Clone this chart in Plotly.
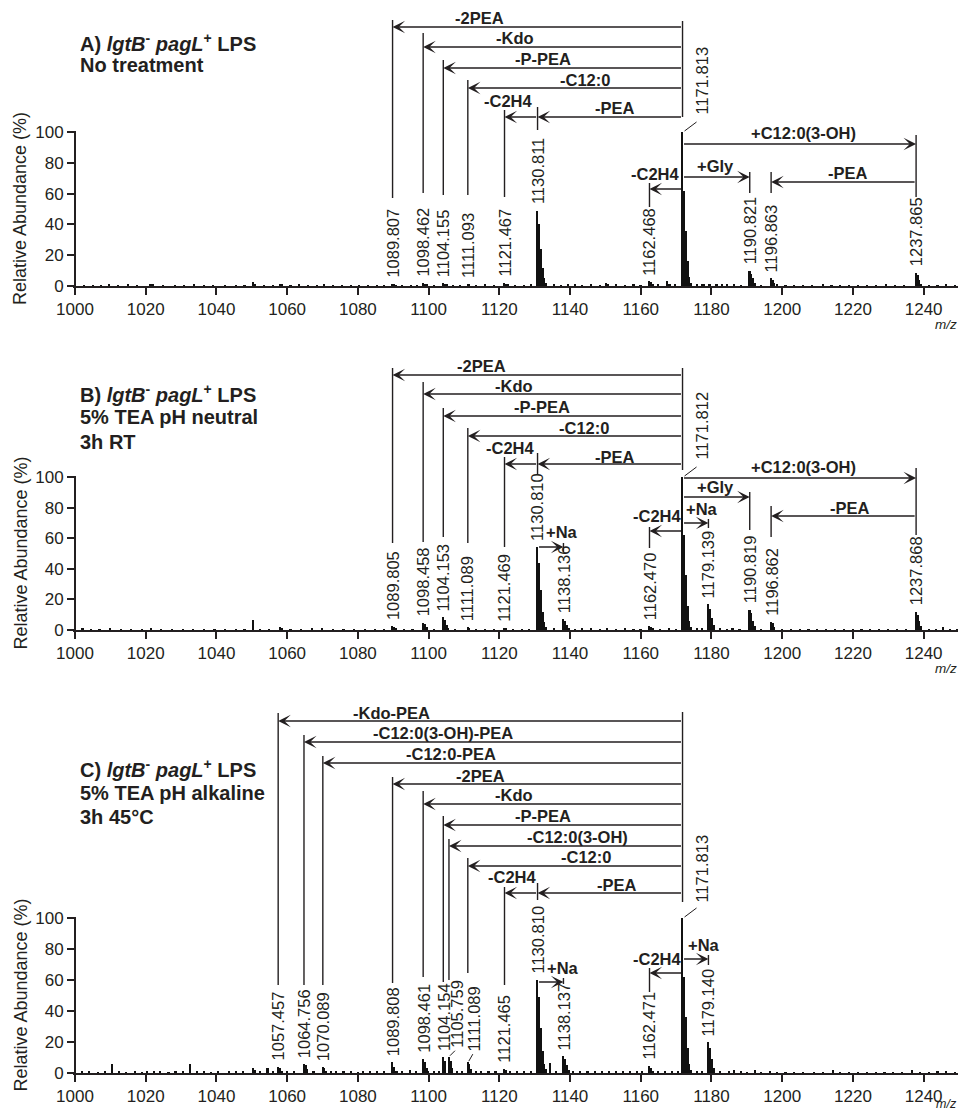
import plotly.graph_objects as go

# ---------------------------------------------------------------- data
# (m/z, relative abundance %)
A_peaks = [
    (1002.5, 0.6), (1005.2, 0.5), (1007.4, 0.6), (1009.6, 1.0), (1012.3, 0.5), (1015.0, 0.7),
    (1017.6, 0.5), (1021.4, 1.4), (1022.0, 0.8), (1025.0, 0.5), (1028.3, 0.6), (1031.0, 0.5),
    (1033.8, 0.7), (1036.5, 0.6), (1039.2, 0.5), (1042.6, 0.6), (1045.5, 0.5), (1048.0, 0.6),
    (1050.5, 2.4), (1051.0, 1.2), (1053.5, 0.6), (1056.0, 0.5), (1058.0, 1.6), (1058.5, 0.8),
    (1061.0, 0.6), (1063.5, 0.7), (1066.0, 0.5), (1068.5, 0.6), (1070.5, 1.1), (1073.0, 0.5),
    (1075.5, 0.6), (1078.0, 0.5), (1080.5, 0.6), (1083.0, 0.5), (1085.5, 0.6), (1087.5, 0.5),
    (1089.807, 1.6), (1090.31, 1.2), (1090.81, 0.6), (1092.5, 0.5), (1095.0, 0.6), (1096.8, 0.5),
    (1098.462, 2.0), (1098.96, 1.5), (1099.46, 0.8), (1101.5, 0.6),
    (1104.155, 2.0), (1104.65, 1.6), (1105.15, 0.8), (1107.0, 0.6), (1109.0, 0.5),
    (1111.093, 1.5), (1111.59, 1.0), (1113.5, 0.6), (1116.0, 0.7), (1118.5, 0.5),
    (1121.467, 2.0), (1121.97, 1.5), (1122.47, 0.8), (1124.5, 0.5), (1127.0, 0.6), (1129.0, 0.7),
    (1130.811, 49.0), (1131.31, 40.0), (1131.81, 24.0), (1132.31, 12.0), (1132.81, 5.0), (1133.31, 2.0),
    (1135.5, 0.8), (1137.5, 0.6), (1139.5, 0.7), (1141.5, 1.0), (1143.5, 0.6), (1146.0, 0.7),
    (1148.5, 0.6), (1150.3, 2.0), (1150.8, 1.0), (1153.0, 0.8), (1155.5, 0.6), (1158.0, 0.7), (1160.0, 0.6),
    (1162.468, 3.0), (1162.97, 2.5), (1163.47, 1.2), (1165.0, 0.8), (1167.4, 3.5), (1168.2, 1.0), (1169.8, 0.8),
    (1171.813, 100.0), (1172.31, 62.0), (1172.81, 36.0), (1173.31, 16.0), (1173.81, 6.0), (1174.31, 2.0),
    (1176.0, 0.8), (1177.3, 1.5), (1177.8, 1.0), (1179.5, 0.7), (1181.5, 0.8), (1183.0, 1.0),
    (1184.5, 0.9), (1186.5, 0.7), (1188.5, 0.6),
    (1190.821, 10.0), (1191.32, 8.0), (1191.82, 5.0), (1192.32, 2.0), (1194.0, 0.6),
    (1196.863, 5.0), (1197.36, 4.0), (1197.86, 2.0), (1198.5, 0.8),
    (1201.0, 0.6), (1203.5, 0.5), (1206.0, 0.6), (1208.5, 0.5), (1211.5, 0.7), (1214.0, 0.5),
    (1216.5, 0.6), (1219.0, 0.5), (1221.5, 0.6), (1224.0, 0.5), (1226.5, 0.6), (1229.3, 0.9),
    (1232.0, 0.5), (1234.5, 0.6),
    (1237.865, 8.7), (1238.37, 7.0), (1238.87, 4.0), (1239.37, 1.5),
    (1241.5, 0.6), (1244.0, 0.5), (1246.5, 0.7), (1249.0, 0.5),
]

B_peaks = [
    (1002.2, 1.6), (1004.5, 0.6), (1007.0, 0.5), (1010.0, 0.9), (1013.0, 0.5), (1016.0, 0.6),
    (1019.0, 0.5), (1021.5, 0.8), (1024.5, 0.6), (1027.5, 0.5), (1030.5, 0.6), (1033.5, 0.5),
    (1036.5, 0.6), (1039.5, 0.5), (1042.5, 0.6), (1045.5, 0.5), (1048.0, 0.6), (1050.5, 6.5),
    (1052.5, 0.6), (1055.0, 0.5), (1058.0, 2.0), (1058.5, 1.0), (1061.0, 0.6), (1064.0, 0.5),
    (1067.0, 0.7), (1070.0, 0.9), (1073.0, 0.5), (1076.0, 0.6), (1079.0, 0.5), (1082.0, 0.6),
    (1085.0, 0.5), (1087.5, 0.6),
    (1089.805, 2.6), (1090.31, 2.0), (1090.81, 0.8), (1093.0, 0.6), (1095.5, 0.5),
    (1098.458, 4.8), (1098.96, 4.0), (1099.46, 2.0), (1101.5, 0.6),
    (1104.153, 8.3), (1104.65, 6.5), (1105.15, 3.5), (1105.65, 1.5), (1107.5, 0.6),
    (1111.089, 2.0), (1111.59, 1.5), (1113.5, 0.6), (1116.0, 0.5), (1118.5, 0.6),
    (1121.469, 1.2), (1121.97, 0.9), (1124.0, 0.6), (1126.5, 0.5), (1128.5, 0.6),
    (1130.810, 54.0), (1131.31, 44.0), (1131.81, 26.0), (1132.31, 12.0), (1132.81, 5.0), (1133.31, 2.0),
    (1135.5, 0.7),
    (1138.136, 7.4), (1138.64, 6.0), (1139.14, 3.5), (1139.64, 1.5),
    (1141.5, 0.6), (1143.5, 1.0), (1146.0, 0.8), (1148.5, 0.6), (1150.5, 1.0), (1153.0, 0.6),
    (1155.5, 0.8), (1158.0, 0.6), (1160.0, 0.5),
    (1162.470, 2.8), (1162.97, 2.2), (1163.47, 1.0), (1165.5, 0.6), (1168.0, 0.7), (1170.0, 0.6),
    (1171.812, 100.0), (1172.31, 62.0), (1172.81, 36.0), (1173.31, 16.0), (1173.81, 6.0), (1174.31, 2.0),
    (1176.0, 0.7), (1177.3, 1.6),
    (1179.139, 17.0), (1179.64, 14.0), (1180.14, 8.0), (1180.64, 3.0),
    (1182.5, 0.7), (1184.5, 0.6), (1186.0, 0.8), (1188.0, 0.6),
    (1190.819, 13.4), (1191.32, 11.0), (1191.82, 6.0), (1192.32, 2.5), (1194.0, 0.6),
    (1196.862, 5.5), (1197.36, 4.5), (1197.86, 2.0),
    (1200.0, 0.6), (1202.5, 0.5), (1205.0, 0.6), (1207.5, 0.5), (1210.0, 0.6), (1212.5, 0.5),
    (1215.0, 0.6), (1217.5, 0.5), (1220.0, 0.6), (1222.5, 0.5), (1225.0, 0.6), (1227.5, 0.5),
    (1230.0, 0.6), (1232.5, 0.5), (1235.0, 0.6),
    (1237.868, 12.0), (1238.37, 10.0), (1238.87, 6.0), (1239.37, 2.5),
    (1241.5, 0.6), (1243.5, 0.5), (1245.6, 2.2), (1247.5, 0.6), (1249.5, 0.5),
]

C_peaks = [
    (1002.0, 0.7), (1004.0, 0.9), (1006.5, 0.6), (1008.5, 0.8), (1010.5, 6.0), (1012.5, 0.7),
    (1014.5, 0.6), (1017.0, 0.8), (1019.0, 0.6), (1020.5, 1.2), (1022.5, 0.7), (1024.0, 1.0),
    (1026.5, 0.6), (1028.5, 0.8), (1030.5, 0.7), (1032.5, 6.0), (1034.5, 0.7), (1036.5, 0.8),
    (1038.5, 0.6), (1040.5, 0.7), (1043.5, 1.5), (1045.5, 0.7), (1047.5, 0.8), (1050.5, 3.0),
    (1051.0, 2.0), (1052.5, 0.8), (1054.5, 3.0), (1056.0, 0.8),
    (1057.457, 4.0), (1057.96, 3.0), (1058.46, 1.2), (1060.0, 0.8), (1062.0, 0.7),
    (1064.756, 6.0), (1065.26, 5.0), (1065.76, 2.5), (1067.5, 0.8),
    (1070.089, 4.0), (1070.59, 3.5), (1071.09, 1.5), (1072.5, 1.6), (1074.0, 0.8), (1076.0, 0.7),
    (1078.0, 0.8), (1080.0, 0.6), (1081.5, 0.8), (1083.5, 1.5), (1085.5, 0.7), (1087.5, 0.8),
    (1089.808, 7.0), (1090.31, 4.0), (1091.0, 1.2), (1092.5, 0.8), (1094.7, 2.0), (1096.5, 0.8),
    (1098.461, 9.0), (1098.96, 7.0), (1099.46, 3.5), (1099.96, 1.2), (1101.5, 0.8), (1103.0, 1.0),
    (1104.154, 10.5), (1104.65, 8.0),
    (1105.759, 10.5), (1106.26, 8.0), (1106.76, 3.0), (1108.0, 1.0), (1109.5, 0.8),
    (1111.089, 7.0), (1111.59, 5.5), (1112.09, 2.5), (1113.5, 1.2), (1115.0, 1.0), (1117.0, 0.8), (1119.0, 1.0),
    (1121.465, 2.5), (1121.97, 2.0), (1123.0, 1.2), (1125.0, 0.8), (1127.0, 0.7), (1129.0, 0.8),
    (1130.810, 60.0), (1131.31, 49.0), (1131.81, 29.0), (1132.31, 14.0), (1132.81, 6.0), (1133.31, 2.5),
    (1134.3, 6.5), (1136.0, 0.8),
    (1138.137, 11.0), (1138.64, 9.0), (1139.14, 5.0), (1139.64, 2.0),
    (1141.0, 0.8), (1143.0, 1.0), (1145.0, 0.7), (1147.0, 1.0), (1149.0, 0.7), (1151.0, 0.8),
    (1153.0, 0.7), (1155.0, 0.8), (1157.0, 0.7), (1159.0, 0.8), (1160.5, 1.0),
    (1162.471, 4.5), (1162.97, 3.5), (1163.47, 1.5), (1165.0, 0.8), (1167.0, 0.9), (1169.0, 0.8), (1170.5, 1.0),
    (1171.813, 100.0), (1172.31, 62.0), (1172.81, 36.0), (1173.31, 16.0), (1173.81, 6.0), (1174.31, 2.0),
    (1176.0, 0.8), (1177.5, 0.9),
    (1179.140, 20.0), (1179.64, 16.0), (1180.14, 9.0), (1180.64, 3.5),
    (1182.5, 0.8), (1185.0, 1.5), (1186.5, 1.8), (1188.5, 0.7), (1190.0, 0.6), (1192.3, 1.8),
    (1194.0, 0.6), (1196.5, 1.2), (1198.5, 0.6), (1201.0, 0.6), (1203.5, 0.5), (1206.0, 0.6),
    (1209.0, 0.5), (1211.5, 0.6), (1214.4, 2.0), (1216.5, 0.6), (1219.0, 0.5), (1221.5, 0.6),
    (1224.0, 0.5), (1226.5, 0.6), (1229.0, 0.5), (1231.5, 0.6), (1234.0, 0.5), (1236.7, 2.0),
    (1239.0, 0.6), (1241.5, 0.5), (1244.0, 0.7), (1246.5, 0.8), (1249.0, 0.6),
]

# labelled peaks
A_labels = ["1089.807", "1098.462", "1104.155", "1111.093", "1121.467", "1130.811",
            "1162.468", "1171.813", "1190.821", "1196.863", "1237.865"]
B_labels = ["1089.805", "1098.458", "1104.153", "1111.089", "1121.469", "1130.810", "1138.136",
            "1162.470", "1171.812", "1179.139", "1190.819", "1196.862", "1237.868"]
C_labels = ["1057.457", "1064.756", "1070.089", "1089.808", "1098.461", "1104.154", "1105.759",
            "1111.089", "1121.465", "1130.810", "1138.137", "1162.471", "1171.813", "1179.140"]

# neutral-loss / adduct relations: (text, from m/z, to m/z)
A_relations = [
    ("-2PEA", 1171.813, 1089.807), ("-Kdo", 1171.813, 1098.462), ("-P-PEA", 1171.813, 1104.155),
    ("-C12:0", 1171.813, 1111.093), ("-PEA", 1171.813, 1130.811), ("-C2H4", 1130.811, 1121.467),
    ("+C12:0(3-OH)", 1171.813, 1237.865), ("+Gly", 1171.813, 1190.821), ("-C2H4", 1171.813, 1162.468),
    ("-PEA", 1237.865, 1196.863),
]
B_relations = [
    ("-2PEA", 1171.812, 1089.805), ("-Kdo", 1171.812, 1098.458), ("-P-PEA", 1171.812, 1104.153),
    ("-C12:0", 1171.812, 1111.089), ("-PEA", 1171.812, 1130.810), ("-C2H4", 1130.810, 1121.469),
    ("+C12:0(3-OH)", 1171.812, 1237.868), ("+Gly", 1171.812, 1190.819), ("+Na", 1171.812, 1179.139),
    ("-C2H4", 1171.812, 1162.470), ("-PEA", 1237.868, 1196.862), ("+Na", 1130.810, 1138.136),
]
C_relations = [
    ("-Kdo-PEA", 1171.813, 1057.457), ("-C12:0(3-OH)-PEA", 1171.813, 1064.756),
    ("-C12:0-PEA", 1171.813, 1070.089), ("-2PEA", 1171.813, 1089.808), ("-Kdo", 1171.813, 1098.461),
    ("-P-PEA", 1171.813, 1104.154), ("-C12:0(3-OH)", 1171.813, 1105.759), ("-C12:0", 1171.813, 1111.089),
    ("-PEA", 1171.813, 1130.810), ("-C2H4", 1130.810, 1121.465), ("+Na", 1171.813, 1179.140),
    ("-C2H4", 1171.813, 1162.471), ("+Na", 1130.810, 1138.137),
]

A_title = ["A) <i>lgtB</i><sup>-</sup> <i>pagL</i><sup>+</sup> LPS", "No treatment"]
B_title = ["B) <i>lgtB</i><sup>-</sup> <i>pagL</i><sup>+</sup> LPS", "5% TEA pH neutral", "3h RT"]
C_title = ["C) <i>lgtB</i><sup>-</sup> <i>pagL</i><sup>+</sup> LPS", "5% TEA pH alkaline", "3h 45°C"]

X_TICKS = list(range(1000, 1241, 20))
Y_TICKS = [0, 20, 40, 60, 80, 100]

# ---------------------------------------------------------------- layout (pixel geometry)
# page pixels are given in window coordinates; the page body has an 8 px margin
OFF = 8
W, H = 966 - OFF, 1113 - OFF
FONT = "Liberation Sans, Arial, sans-serif"
INK = "#231f20"
X_LO, X_HI = 1000, 1250
PX_L, PX_R = 75, 959
PPX = (PX_R - PX_L) / (X_HI - X_LO)
PAD = 0.5


def fx(px):
    return (px - OFF) / W


def fy(py):
    return 1 - (py - OFF) / H


# per relation: line y (px), label x (m/z), label y (px)
A_rel_geom = [(27, 1114.3, 18), (47, 1124.4, 38), (68, 1132.4, 59), (88, 1144.2, 80),
              (117, 1152.7, 108), (117, 1122.7, 101), (144, 1205.9, 133), (177, 1181.0, 166),
              (189, 1164.3, 174), (182, 1218.6, 173)]
B_rel_geom = [(375, 1115.1, 366), (394, 1124.2, 386), (416, 1132.1, 407), (436, 1143.9, 428),
              (464, 1152.7, 457), (464, 1123.3, 448), (478, 1205.9, 467), (497, 1181.0, 487),
              (523, 1177.3, 509), (531, 1164.6, 516), (516, 1219.2, 508), (547, 1137.7, 532)]
C_rel_geom = [(721, 1089.4, 713), (742, 1104.1, 733), (763, 1106.3, 754), (784, 1114.8, 776),
              (804, 1124.2, 795), (825, 1132.4, 816), (846, 1142.0, 837), (866, 1144.5, 857),
              (893, 1153.3, 885), (893, 1123.6, 877), (959, 1177.9, 945), (973, 1164.6, 959),
              (982, 1138.0, 968)]
# vertical drop lines: (m/z, top px, bottom px)
A_vlines = [(1089.807, 20, 198), (1098.462, 33, 193), (1104.155, 60, 195), (1111.093, 80, 195),
            (1130.811, 107, 130), (1121.467, 110, 197), (1171.813, 21, 117), (1237.865, 135, 197),
            (1190.821, 172, 193), (1162.468, 183, 207), (1196.863, 172, 193)]
B_vlines = [(1089.805, 368, 543), (1098.458, 382, 542), (1104.153, 408, 537), (1111.089, 428, 543),
            (1130.810, 453, 475), (1121.469, 457, 547), (1171.812, 368, 470), (1237.868, 468, 535),
            (1190.819, 492, 530), (1179.139, 519, 528), (1162.470, 527, 548), (1196.862, 506, 537),
            (1138.136, 543, 552)]
C_vlines = [(1057.457, 713, 985), (1064.756, 735, 985), (1070.089, 756, 985), (1089.808, 777, 983),
            (1098.461, 791, 977), (1104.154, 816, 982), (1105.759, 839, 980), (1111.089, 858, 973),
            (1130.810, 883, 900), (1121.465, 887, 985), (1171.813, 712, 902), (1179.140, 955, 965),
            (1162.471, 968, 992), (1138.137, 978, 984)]
# labels drawn off-peak with a leader: label -> (dx px, label-bottom above peak px, leader dx0,dy0,dx1,dy1)
A_off = {"1171.813": (19, 15, 2, 1, 14, 10)}
B_off = {"1171.812": (19, 15, 2, 1, 14, 10)}
C_off = {"1171.813": (19, 13, 2, 1, 14, 10), "1105.759": (8, 7, 1, 1, 6, 6),
         "1111.089": (6, 9, 1, 1, 5, 8)}

panels = [
    dict(peaks=A_peaks, labels=A_labels, rel=A_relations, geom=A_rel_geom, vl=A_vlines, off=A_off,
         title=A_title, title_py=[42, 65], base=286, p100=132, top=12, mz_py=324, mz_fs=13.5),
    dict(peaks=B_peaks, labels=B_labels, rel=B_relations, geom=B_rel_geom, vl=B_vlines, off=B_off,
         title=B_title, title_py=[393, 417, 442], base=630, p100=477, top=360, mz_py=668, mz_fs=13.5),
    dict(peaks=C_peaks, labels=C_labels, rel=C_relations, geom=C_rel_geom, vl=C_vlines, off=C_off,
         title=C_title, title_py=[768, 793, 817], base=1073, p100=918, top=705, mz_py=1104, mz_fs=12.5),
]

fig = go.Figure()
shapes, annos = [], []
LW = 1.4

for i, p in enumerate(panels, 1):
    sfx = "" if i == 1 else str(i)
    xa, ya = "x" + sfx, "y" + sfx
    base, ppu = p["base"], (p["base"] - p["p100"]) / 100.0
    ymax = (base - p["top"]) / ppu

    def yd(py, base=base, ppu=ppu):
        return (base - py) / ppu

    mz = [a for a, _ in p["peaks"]]
    ab = [b for _, b in p["peaks"]]
    inten = dict(p["peaks"])
    fig.add_trace(go.Bar(x=mz, y=ab, width=0.6, marker=dict(color="#111", line_width=0),
                         xaxis=xa, yaxis=ya, showlegend=False, hoverinfo="skip"))

    fig.update_layout(**{
        "xaxis" + sfx: dict(
            domain=[fx(PX_L - PAD * PPX), fx(PX_R + PAD * PPX)], range=[X_LO - PAD, X_HI + PAD],
            anchor=ya, tickvals=X_TICKS + [X_HI], ticktext=[str(v) for v in X_TICKS] + [""],
            ticks="outside", ticklen=7, tickwidth=1.5, tickcolor=INK, showline=True, linewidth=2,
            linecolor=INK, showgrid=False, zeroline=False, automargin=False,
            tickfont=dict(family=FONT, size=17, color=INK)),
        "yaxis" + sfx: dict(
            domain=[fy(base), fy(p["top"])], range=[0, ymax], anchor="free",
            position=fx(PX_L + 1), tickvals=Y_TICKS, ticks="outside", ticklen=9, tickwidth=1.5,
            tickcolor=INK, showline=False, showgrid=False, zeroline=False, automargin=False,
            tickfont=dict(family=FONT, size=17, color=INK)),
    })
    # y axis line only over 0-100
    shapes.append(dict(type="line", xref=xa, yref=ya, x0=X_LO, x1=X_LO, y0=0, y1=100,
                       line=dict(color=INK, width=2)))

    # peak labels
    for lab in p["labels"]:
        m = float(lab)
        h = inten[m]
        if lab in p["off"]:
            dx, up, lx0, ly0, lx1, ly1 = p["off"][lab]
            annos.append(dict(xref=xa, yref=ya, x=m + dx / PPX, y=h + up / ppu, text=lab,
                              textangle=-90, showarrow=False, xanchor="center", yanchor="bottom",
                              font=dict(family=FONT, size=16.5, color=INK)))
            shapes.append(dict(type="line", xref=xa, yref=ya, x0=m + lx0 / PPX, y0=h + ly0 / ppu,
                               x1=m + lx1 / PPX, y1=h + ly1 / ppu, line=dict(color=INK, width=1)))
        else:
            annos.append(dict(xref=xa, yref=ya, x=m, y=h, yshift=4, text=lab, textangle=-90,
                              showarrow=False, xanchor="center", yanchor="bottom",
                              font=dict(family=FONT, size=16.5, color=INK)))

    # vertical drop lines
    for m, t, b in p["vl"]:
        shapes.append(dict(type="line", xref=xa, yref=ya, x0=m, x1=m, y0=yd(t), y1=yd(b),
                           line=dict(color=INK, width=LW)))

    # relation arrows + labels
    for (txt, m_from, m_to), (lpy, lab_x, lab_py) in zip(p["rel"], p["geom"]):
        annos.append(dict(xref=xa, yref=ya, axref=xa, ayref=ya, x=m_to, y=yd(lpy), ax=m_from,
                          ay=yd(lpy), text="", showarrow=True, arrowhead=3, arrowsize=1.5,
                          arrowwidth=LW, arrowcolor=INK, standoff=0, startstandoff=0))
        annos.append(dict(xref=xa, yref=ya, x=lab_x, y=yd(lab_py), text="<b>" + txt + "</b>",
                          showarrow=False, xanchor="center", yanchor="middle",
                          font=dict(family=FONT, size=16.5, color=INK)))

    # panel titles
    for t, py in zip(p["title"], p["title_py"]):
        annos.append(dict(xref="paper", yref="paper", x=fx(78), y=fy(py), text="<b>" + t + "</b>",
                          showarrow=False, xanchor="left", yanchor="middle",
                          font=dict(family=FONT, size=20, color=INK)))
    # axis titles
    annos.append(dict(xref="paper", yref="paper", x=fx(20), y=fy((base + p["p100"]) / 2),
                      text="Relative Abundance (%)", textangle=-90, showarrow=False,
                      xanchor="center", yanchor="middle", font=dict(family=FONT, size=18, color=INK)))
    annos.append(dict(xref="paper", yref="paper", x=fx(958), y=fy(p["mz_py"]), text="<i>m/z</i>",
                      showarrow=False, xanchor="right", yanchor="middle", borderpad=0,
                      font=dict(family=FONT, size=p["mz_fs"], color=INK)))

fig.update_layout(width=W, height=H, margin=dict(l=0, r=0, t=0, b=0, autoexpand=False),
                  paper_bgcolor="white", plot_bgcolor="white", shapes=shapes, annotations=annos,
                  bargap=0)
fig.write_html("out.html")
